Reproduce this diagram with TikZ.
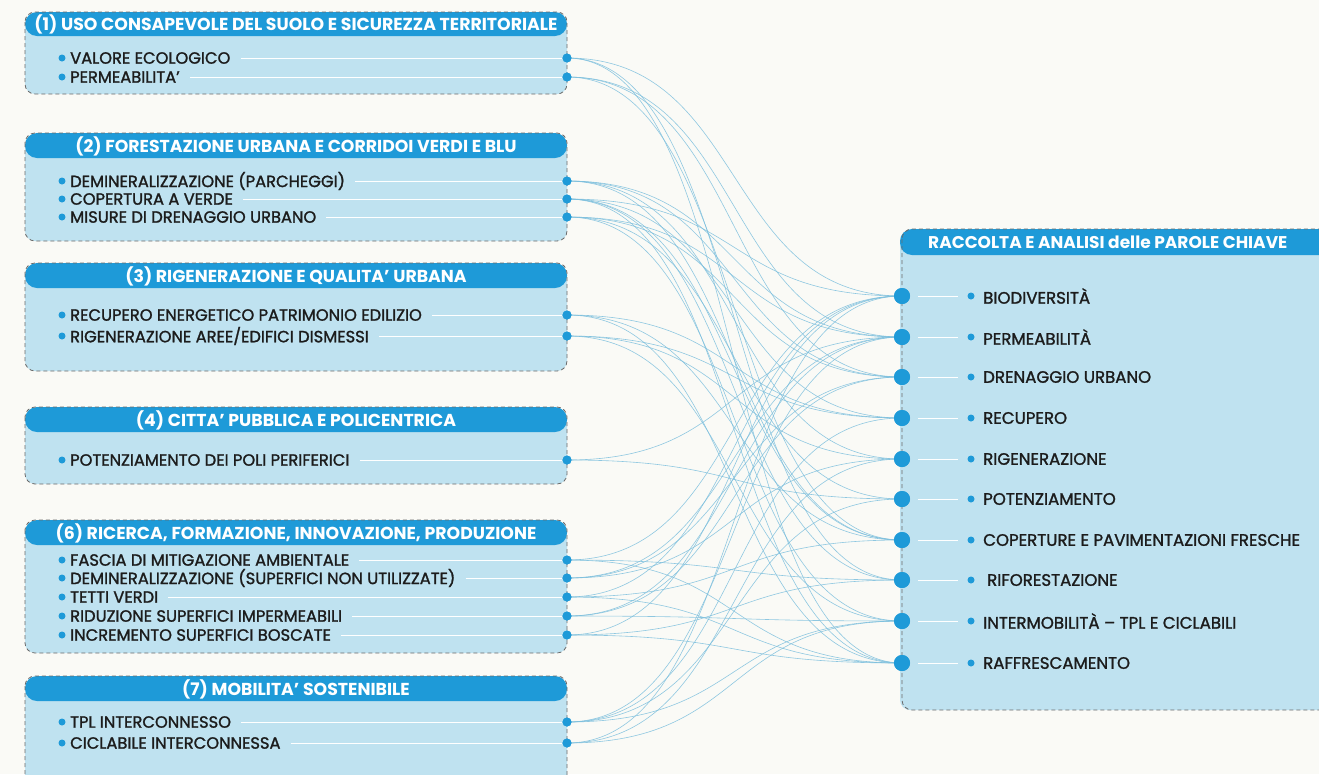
\documentclass[tikz,border=0pt]{standalone}
\usepackage{fontspec}
\setmainfont{Poppins}
\newfontfamily\itemfont[FakeBold=1.4]{Poppins}
\definecolor{hdr}{HTML}{1E9AD8}
\definecolor{bodyc}{HTML}{BFE2F0}
\definecolor{bgc}{HTML}{FAFAF6}
\definecolor{lnk}{HTML}{7CBFDD}
\definecolor{dashc}{HTML}{6A6A6A}
\definecolor{txt}{HTML}{1C1C1C}
\tikzset{
  hdrbox/.style={fill=hdr, rounded corners=12pt},
  bodybox/.style={fill=bodyc, rounded corners=10pt},
  outl/.style={draw=dashc, dash pattern=on 4pt off 3pt, line width=0.8pt, rounded corners=10pt},
  htext/.style={text=white, font=\bfseries\fontsize{17.3}{18}\selectfont, inner sep=0pt},
  itext/.style={text=txt, font=\itemfont\fontsize{16.3}{18}\selectfont, anchor=west, inner sep=0pt},
  rtext/.style={text=txt, font=\itemfont\fontsize{16.6}{18}\selectfont, anchor=west, inner sep=0pt},
  bul/.style={circle, fill=hdr, inner sep=0pt, minimum size=7pt},
  ldot/.style={circle, fill=hdr, inner sep=0pt, minimum size=9pt},
  rdot/.style={circle, fill=hdr, inner sep=0pt, minimum size=16pt},
  wline/.style={draw=white, line width=0.9pt},
  link/.style={draw=lnk, line width=0.6pt, opacity=0.85}
}
\begin{document}
\begin{tikzpicture}[x=1pt,y=-1pt]
\useasboundingbox (0,0) rectangle (1319,774);
\clip (0,0) rectangle (1319,774);
\fill[bgc] (0,0) rectangle (1319,774);

% ---------- left boxes ----------
\fill[bodybox] (25,20) rectangle (567,94);
\fill[hdrbox] (25,12) rectangle (567,36);
\draw[outl] (25,12) rectangle (567,94);
\node[htext] (h1) at (296,24) {(1) USO CONSAPEVOLE DEL SUOLO E SICUREZZA TERRITORIALE};
\fill[bodybox] (25,141) rectangle (567,241);
\fill[hdrbox] (25,133) rectangle (567,158);
\draw[outl] (25,133) rectangle (567,241);
\node[htext] (h2) at (296,146) {(2) FORESTAZIONE URBANA E CORRIDOI VERDI E BLU};
\fill[bodybox] (25,271) rectangle (567,371);
\fill[hdrbox] (25,263) rectangle (567,288);
\draw[outl] (25,263) rectangle (567,371);
\node[htext] (h3) at (296,276) {(3) RIGENERAZIONE E QUALITA’ URBANA};
\fill[bodybox] (25,415) rectangle (567,484);
\fill[hdrbox] (25,407) rectangle (567,432);
\draw[outl] (25,407) rectangle (567,484);
\node[htext] (h4) at (296,420) {(4) CITTA’ PUBBLICA E POLICENTRICA};
\fill[bodybox] (25,528) rectangle (567,653);
\fill[hdrbox] (25,520) rectangle (567,545);
\draw[outl] (25,520) rectangle (567,653);
\node[htext] (h6) at (296,533) {(6) RICERCA, FORMAZIONE, INNOVAZIONE, PRODUZIONE};
\fill[bodybox] (25,684) rectangle (567,800);
\fill[hdrbox] (25,676) rectangle (567,701);
\draw[outl] (25,676) rectangle (567,800);
\node[htext] (h7) at (296,689) {(7) MOBILITA’ SOSTENIBILE};

% ---------- right box ----------
\fill[bodybox] (900,238) rectangle (1360,710);
\fill[hdrbox] (900,229) rectangle (1360,255);
\draw[outl] (902,229) rectangle (1360,710);
\node[htext, anchor=west, font=\bfseries\fontsize{17}{18}\selectfont] (hr) at (928,242) {RACCOLTA E ANALISI delle PAROLE CHIAVE};

% ---------- left items ----------
\foreach \n/\y/\t in {
  a1/58/{VALORE ECOLOGICO},
  a2/77/{PERMEABILITA’},
  b1/181/{DEMINERALIZZAZIONE (PARCHEGGI)},
  b2/199/{COPERTURA A VERDE},
  b3/217/{MISURE DI DRENAGGIO URBANO},
  c1/315/{RECUPERO ENERGETICO PATRIMONIO EDILIZIO},
  c2/336/{RIGENERAZIONE AREE/EDIFICI DISMESSI},
  d1/460/{POTENZIAMENTO DEI POLI PERIFERICI},
  e1/560/{FASCIA DI MITIGAZIONE AMBIENTALE},
  e2/578/{DEMINERALIZZAZIONE (SUPERFICI NON UTILIZZATE)},
  e3/597/{TETTI VERDI},
  e4/616/{RIDUZIONE SUPERFICI IMPERMEABILI},
  e5/635/{INCREMENTO SUPERFICI BOSCATE},
  f1/722/{TPL INTERCONNESSO},
  f2/743/{CICLABILE INTERCONNESSA}}
{
  \node[bul] (\n b) at (62,\y) {};
  \node[itext] (\n t) at (70,\y) {\t};
  \node[ldot] (\n) at (567,\y) {};
  \draw[wline] ([xshift=10pt]\n t.east) -- (\n);
}

% ---------- right items ----------
\foreach \n/\y/\t in {
  r1/296/{BIODIVERSITÀ},
  r2/337/{PERMEABILITÀ},
  r3/377/{DRENAGGIO URBANO},
  r4/418/{RECUPERO},
  r5/459/{RIGENERAZIONE},
  r6/499/{POTENZIAMENTO},
  r7/540/{COPERTURE E PAVIMENTAZIONI FRESCHE},
  r8/580/{\hspace{4pt}RIFORESTAZIONE},
  r9/621/{INTERMOBILITÀ – TPL E CICLABILI},
  r10/663/{RAFFRESCAMENTO}}
{
  \node[rdot] (\n) at (902,\y) {};
  \node[bul] (\n b) at (971,\y) {};
  \node[rtext] (\n t) at (983,\y) {\t};
  \draw[wline] (918,\y) -- (958,\y);
}

% ---------- links ----------
\foreach \s/\d in {
  a1/r1, a1/r8, a1/r10,
  a2/r2, a2/r3, a2/r7,
  b1/r2, b1/r3, b1/r5, b1/r7,
  b2/r1, b2/r4, b2/r7, b2/r8, b2/r10,
  b3/r3, b3/r2, b3/r6, b3/r9,
  c1/r4, c1/r7, c1/r10,
  c2/r5, c2/r4, c2/r9,
  d1/r6, d1/r2,
  e1/r1, e1/r8, e1/r10,
  e2/r2, e2/r3, e2/r5,
  e3/r7, e3/r10, e3/r1,
  e4/r2, e4/r3, e4/r9,
  e5/r8, e5/r1, e5/r10,
  f1/r9, f1/r6, f1/r4, f1/r2,
  f2/r9, f2/r5, f2/r1}
{
  \draw[link] (\s.center) .. controls +(180,0) and +(-180,0) .. (\d.center);
}

% dots on top of links
\foreach \n in {a1,a2,b1,b2,b3,c1,c2,d1,e1,e2,e3,e4,e5,f1,f2}
  \fill[hdr] (\n.center) circle (4.5pt);
\foreach \n in {r1,r2,r3,r4,r5,r6,r7,r8,r9,r10}
  \fill[hdr] (\n.center) circle (8pt);
\end{tikzpicture}
\end{document}
